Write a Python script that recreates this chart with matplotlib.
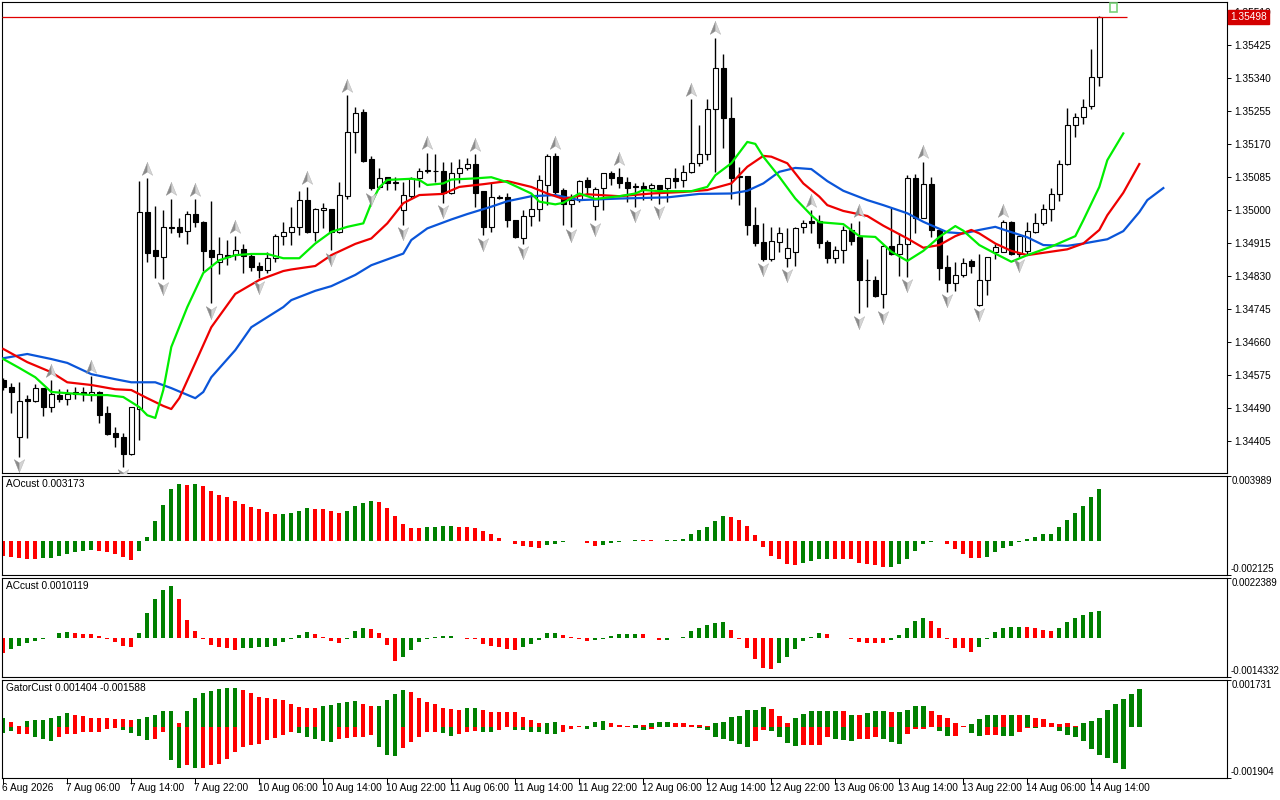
import matplotlib
matplotlib.use("Agg")
import matplotlib.pyplot as plt
from matplotlib.path import Path
from matplotlib.patches import Rectangle

plt.rcParams['font.family'] = ['Liberation Sans', 'DejaVu Sans']

# H1 bars, 6 Aug 22:00 .. 14 Aug 15:00
opens = [1.34562, 1.34543, 1.34414, 1.34513, 1.34508, 1.34540, 1.34493, 1.34522, 1.34513, 1.34526,
         1.34532, 1.34525, 1.34531, 1.34476, 1.34424, 1.34414, 1.34371, 1.34487, 1.34994, 1.34897,
         1.34880, 1.34956, 1.34956, 1.34947, 1.34989, 1.34969, 1.34897, 1.34867, 1.34884, 1.34884,
         1.34899, 1.34881, 1.34856, 1.34845, 1.34876, 1.34933, 1.34943, 1.34956, 1.35026, 1.34944,
         1.35000, 1.35002, 1.34944, 1.35037, 1.35201, 1.35252, 1.35131, 1.35059, 1.35085, 1.35071,
         1.35000, 1.35037, 1.35082, 1.35102, 1.35102, 1.35101, 1.35045, 1.35095, 1.35110, 1.35118,
         1.35049, 1.34957, 1.35033, 1.35033, 1.34974, 1.34927, 1.34986, 1.35002, 1.35065, 1.35141,
         1.35052, 1.35015, 1.35026, 1.35078, 1.35012, 1.35056, 1.35096, 1.35085, 1.35072, 1.35062,
         1.35062, 1.35056, 1.35065, 1.35056, 1.35082, 1.35078, 1.35099, 1.35121, 1.35144, 1.35260,
         1.35367, 1.35238, 1.35088, 1.35088, 1.34963, 1.34918, 1.34873, 1.34917, 1.34876, 1.34893,
         1.34956, 1.34972, 1.34972, 1.34918, 1.34876, 1.34897, 1.34949, 1.34931, 1.34821, 1.34821,
         1.34783, 1.34907, 1.34888, 1.34914, 1.35082, 1.34981, 1.35067, 1.34950, 1.34854, 1.34813,
         1.34832, 1.34869, 1.34755, 1.34820, 1.34893, 1.34893, 1.34970, 1.34888, 1.34895, 1.34943,
         1.34966, 1.35002, 1.35041, 1.35118, 1.35219, 1.35241, 1.35269, 1.35344]
highs = [1.34567, 1.34553, 1.34556, 1.34523, 1.34551, 1.34541, 1.34562, 1.34538, 1.34538, 1.34544,
         1.34544, 1.34572, 1.34533, 1.34495, 1.34440, 1.34424, 1.34493, 1.35075, 1.35082, 1.35010,
         1.35000, 1.35030, 1.34979, 1.34998, 1.35029, 1.34973, 1.35023, 1.34930, 1.34923, 1.34933,
         1.34913, 1.34888, 1.34867, 1.34893, 1.34938, 1.34970, 1.35009, 1.35049, 1.35060, 1.35006,
         1.35019, 1.35003, 1.35072, 1.35297, 1.35265, 1.35260, 1.35140, 1.35110, 1.35086, 1.35085,
         1.35073, 1.35085, 1.35108, 1.35148, 1.35145, 1.35125, 1.35125, 1.35131, 1.35134, 1.35144,
         1.35050, 1.35069, 1.35039, 1.35045, 1.34975, 1.35000, 1.35043, 1.35090, 1.35145, 1.35148,
         1.35058, 1.35043, 1.35078, 1.35086, 1.35060, 1.35097, 1.35101, 1.35108, 1.35086, 1.35069,
         1.35073, 1.35069, 1.35066, 1.35084, 1.35108, 1.35116, 1.35287, 1.35220, 1.35286, 1.35445,
         1.35402, 1.35291, 1.35112, 1.35089, 1.35009, 1.34967, 1.34957, 1.34956, 1.34953, 1.34957,
         1.34974, 1.35000, 1.34987, 1.34923, 1.34907, 1.34959, 1.34967, 1.34973, 1.34873, 1.34830,
         1.34910, 1.35005, 1.34940, 1.35090, 1.35093, 1.35125, 1.35086, 1.34952, 1.34884, 1.34867,
         1.34877, 1.34873, 1.34888, 1.34880, 1.34913, 1.34974, 1.34972, 1.34936, 1.34970, 1.34992,
         1.35017, 1.35056, 1.35129, 1.35263, 1.35251, 1.35288, 1.35417, 1.35501]
lows = [1.34536, 1.34476, 1.34364, 1.34412, 1.34505, 1.34470, 1.34480, 1.34504, 1.34497, 1.34514,
        1.34507, 1.34508, 1.34451, 1.34420, 1.34390, 1.34338, 1.34368, 1.34407, 1.34867, 1.34824,
        1.34822, 1.34940, 1.34931, 1.34912, 1.34957, 1.34844, 1.34760, 1.34835, 1.34858, 1.34871,
        1.34837, 1.34844, 1.34824, 1.34837, 1.34867, 1.34910, 1.34910, 1.34936, 1.34940, 1.34921,
        1.34955, 1.34897, 1.34942, 1.35030, 1.35148, 1.35125, 1.35052, 1.35055, 1.35052, 1.35052,
        1.34963, 1.35030, 1.35059, 1.35095, 1.35073, 1.35019, 1.35043, 1.35069, 1.35103, 1.35009,
        1.34936, 1.34944, 1.35028, 1.34957, 1.34927, 1.34914, 1.34959, 1.34973, 1.35013, 1.35036,
        1.34961, 1.34957, 1.35022, 1.35039, 1.34974, 1.35000, 1.35066, 1.35056, 1.35022, 1.35009,
        1.35026, 1.35026, 1.35017, 1.35020, 1.35056, 1.35060, 1.35095, 1.35114, 1.35129, 1.35099,
        1.35161, 1.35030, 1.35013, 1.34936, 1.34907, 1.34869, 1.34870, 1.34893, 1.34854, 1.34856,
        1.34940, 1.34940, 1.34903, 1.34863, 1.34863, 1.34863, 1.34910, 1.34734, 1.34749, 1.34775,
        1.34747, 1.34885, 1.34830, 1.34828, 1.34942, 1.34979, 1.34931, 1.34821, 1.34789, 1.34792,
        1.34828, 1.34838, 1.34753, 1.34781, 1.34873, 1.34891, 1.34884, 1.34880, 1.34888, 1.34940,
        1.34963, 1.34973, 1.35024, 1.35116, 1.35188, 1.35222, 1.35260, 1.35320]
closes = [1.34544, 1.34531, 1.34507, 1.34507, 1.34540, 1.34493, 1.34525, 1.34513, 1.34525, 1.34532,
          1.34526, 1.34532, 1.34471, 1.34422, 1.34414, 1.34371, 1.34491, 1.34994, 1.34890, 1.34882,
          1.34956, 1.34954, 1.34944, 1.34989, 1.34969, 1.34895, 1.34878, 1.34886, 1.34878, 1.34897,
          1.34881, 1.34854, 1.34845, 1.34876, 1.34933, 1.34943, 1.34956, 1.35026, 1.34944, 1.35002,
          1.35006, 1.34944, 1.35038, 1.35201, 1.35250, 1.35127, 1.35058, 1.35082, 1.35071, 1.35072,
          1.35038, 1.35082, 1.35101, 1.35103, 1.35101, 1.35045, 1.35095, 1.35108, 1.35118, 1.35045,
          1.34957, 1.35033, 1.35032, 1.34974, 1.34930, 1.34986, 1.35002, 1.35078, 1.35141, 1.35047,
          1.35017, 1.35026, 1.35075, 1.35059, 1.35054, 1.35095, 1.35083, 1.35071, 1.35056, 1.35059,
          1.35054, 1.35065, 1.35054, 1.35082, 1.35076, 1.35099, 1.35121, 1.35144, 1.35260, 1.35367,
          1.35238, 1.35082, 1.35085, 1.34963, 1.34916, 1.34873, 1.34921, 1.34940, 1.34903, 1.34953,
          1.34966, 1.34967, 1.34916, 1.34876, 1.34897, 1.34949, 1.34921, 1.34820, 1.34820, 1.34779,
          1.34907, 1.34888, 1.34914, 1.35082, 1.34979, 1.35067, 1.34950, 1.34852, 1.34813, 1.34832,
          1.34864, 1.34857, 1.34820, 1.34878, 1.34906, 1.34970, 1.34888, 1.34933, 1.34946, 1.34966,
          1.35002, 1.35041, 1.35118, 1.35219, 1.35241, 1.35267, 1.35343, 1.35498]

# alligator lines (bar index incl. forward shift, value)
jaw_idx = [0, 3, 6, 8, 11, 14, 16, 19, 21, 24, 25, 26, 29, 31, 35, 36, 39, 41, 44, 46,
           50, 51, 53, 56, 58, 61, 63, 66, 69, 72, 77, 83, 87, 91, 93, 95, 97, 99, 101, 103,
           105, 108, 110, 113, 115, 118, 120, 122, 124, 125, 128, 130, 133, 135, 138, 140, 142, 143, 145]
jaw_val = [1.34618, 1.34629, 1.34616, 1.34606, 1.34577, 1.34564, 1.34556, 1.34556, 1.34541, 1.34515,
           1.34531, 1.34569, 1.34639, 1.34698, 1.34750, 1.34768, 1.34792, 1.34804, 1.34833, 1.34858,
           1.34888, 1.34923, 1.34953, 1.34976, 1.34990, 1.35009, 1.35023, 1.35036, 1.35039, 1.35026,
           1.35030, 1.35033, 1.35042, 1.35043, 1.35050, 1.35069, 1.35099, 1.35109, 1.35106, 1.35075,
           1.35050, 1.35026, 1.35013, 1.34992, 1.34970, 1.34943, 1.34940, 1.34949, 1.34957, 1.34950,
           1.34930, 1.34910, 1.34908, 1.34914, 1.34925, 1.34946, 1.34995, 1.35026, 1.35057]
teeth_idx = [0, 3, 6, 8, 11, 14, 16, 18, 20, 21, 22, 24, 26, 29, 32, 35, 36, 39, 41, 44,
             46, 48, 50, 52, 55, 57, 60, 63, 66, 68, 70, 73, 77, 81, 85, 88, 91, 93, 95, 96,
             98, 100, 102, 103, 105, 108, 110, 113, 115, 117, 119, 121, 122, 124, 126, 128, 130, 133, 135, 137,
             138, 140, 142]
teeth_val = [1.34642, 1.34608, 1.34582, 1.34556, 1.34549, 1.34538, 1.34536, 1.34515, 1.34495, 1.34487,
             1.34515, 1.34606, 1.34698, 1.34784, 1.34820, 1.34843, 1.34847, 1.34856, 1.34884, 1.34913,
             1.34927, 1.34966, 1.35018, 1.35039, 1.35042, 1.35060, 1.35067, 1.35075, 1.35060, 1.35043,
             1.35029, 1.35041, 1.35036, 1.35043, 1.35047, 1.35052, 1.35069, 1.35112, 1.35140, 1.35138,
             1.35121, 1.35069, 1.35035, 1.35013, 1.34998, 1.34985, 1.34960, 1.34927, 1.34903, 1.34910,
             1.34933, 1.34949, 1.34940, 1.34914, 1.34895, 1.34884, 1.34890, 1.34899, 1.34914, 1.34949,
             1.34987, 1.35045, 1.35119]
lips_idx = [0, 2, 4, 6, 8, 11, 13, 15, 17, 18, 19, 20, 21, 23, 25, 27, 29, 31, 33, 35,
            37, 39, 41, 43, 45, 46, 47, 48, 51, 52, 53, 55, 56, 59, 61, 63, 66, 67, 69, 70,
            72, 74, 77, 79, 80, 82, 86, 88, 89, 91, 93, 94, 95, 97, 99, 101, 102, 105, 107, 109,
            111, 113, 115, 117, 119, 120, 122, 124, 126, 128, 131, 134, 135, 137, 138, 140]
lips_val = [1.34616, 1.34593, 1.34569, 1.34531, 1.34528, 1.34523, 1.34523, 1.34518, 1.34492, 1.34471,
            1.34464, 1.34536, 1.34647, 1.34750, 1.34838, 1.34871, 1.34884, 1.34887, 1.34887, 1.34876,
            1.34876, 1.34914, 1.34944, 1.34957, 1.34966, 1.35018, 1.35059, 1.35078, 1.35081, 1.35078,
            1.35065, 1.35069, 1.35079, 1.35082, 1.35085, 1.35072, 1.35043, 1.35022, 1.35015, 1.35019,
            1.35043, 1.35029, 1.35036, 1.35043, 1.35052, 1.35049, 1.35049, 1.35060, 1.35090, 1.35121,
            1.35176, 1.35171, 1.35138, 1.35086, 1.35030, 1.34987, 1.34969, 1.34964, 1.34933, 1.34931,
            1.34893, 1.34869, 1.34895, 1.34931, 1.34959, 1.34947, 1.34910, 1.34888, 1.34867, 1.34884,
            1.34906, 1.34933, 1.34974, 1.35060, 1.35129, 1.35198]

up_fractals = [6, 11, 18, 21, 24, 29, 38, 43, 53, 59, 69, 77, 86, 89, 101, 107, 115, 125]
down_fractals = [2, 15, 20, 26, 32, 41, 46, 50, 55, 60, 65, 71, 74, 79, 82, 95, 98,
                 107, 110, 113, 118, 122, 127]

ao_vals = [-0.000945, -0.001008, -0.00105, -0.00111, -0.00111, -0.001105, -0.00105, -0.000924, -0.000819, -0.000735,
           -0.00063, -0.000588, -0.00063, -0.000693, -0.000819, -0.000987, -0.001198, -0.000672, 0.000252, 0.001198,
           0.002206, 0.003215, 0.003509, 0.003404, 0.003467, 0.003341, 0.003088, 0.002815, 0.002689, 0.002458,
           0.002269, 0.00208, 0.001954, 0.001765, 0.001639, 0.001645, 0.001702, 0.001828, 0.002017, 0.001975,
           0.00197, 0.001849, 0.001702, 0.001828, 0.002143, 0.002332, 0.002458, 0.002395, 0.002017, 0.001513,
           0.001008, 0.000798, 0.000756, 0.00084, 0.000845, 0.000882, 0.000886, 0.00087, 0.000819, 0.000798,
           0.000567, 0.000378, 0.000189, -0.00004, -0.00021, -0.000357, -0.00042, -0.00044, -0.000294, -0.000189,
           -0.000105, -0.00004, -0.00003, -0.000126, -0.000357, -0.000294, -0.000147, -0.000063, -0.00005, 0.00006,
           0.00004, 0.00001, -0.00004, 0.00002, 0.00004, 0.000084, 0.000378, 0.00063, 0.000861, 0.001198,
           0.001492, 0.001429, 0.001261, 0.000882, 0.000315, -0.00042, -0.000924, -0.001156, -0.001471, -0.001513,
           -0.001366, -0.00126, -0.001134, -0.001113, -0.00112, -0.00113, -0.001156, -0.001366, -0.00145, -0.001513,
           -0.001618, -0.00161, -0.00145, -0.001113, -0.00063, -0.00021, -0.000063, -0.000021, -0.00021, -0.000504,
           -0.000798, -0.00105, -0.00106, -0.001008, -0.000735, -0.000462, -0.000315, -0.000063, 0.000105, 0.000231,
           0.000378, 0.00042, 0.000819, 0.001261, 0.001681, 0.002143, 0.00271, 0.003173]
ao_colors = ("r" * 5 + "g" * 7 + "r" * 5 + "g" * 6 + "r" + "g" + "r" * 10 + "g" * 4 + "r" * 4 + "g" * 4
             + "r" * 6 + "g" * 4 + "r" * 11 + "g" * 3 + "r" + "g" + "r" * 2 + "g" * 5 + "r" * 3 + "g" * 8
             + "r" * 9 + "g" * 4 + "r" * 7 + "g" * 7 + "r" * 5 + "g" * 15)

ac_vals = [-0.000556, -0.000396, -0.000297, -0.000173, -0.000099, -0.000025, 0.00001, 0.000185, 0.000235, 0.000185,
           0.00018, 0.000148, 0.000074, -0.00001, -0.000148, -0.000284, -0.000334, 0.000185, 0.000939, 0.001446,
           0.00178, 0.001928, 0.001446, 0.000667, 0.00026, -0.000025, -0.00026, -0.000334, -0.00034, -0.000433,
           -0.000371, -0.00037, -0.000334, -0.00033, -0.000297, -0.000136, -0.00002, 0.000111, 0.000235, 0.000148,
           0.000037, -0.000099, -0.000173, -0.00002, 0.000272, 0.000383, 0.000334, 0.000185, -0.000247, -0.00084,
           -0.000692, -0.000433, -0.000136, -0.00002, 0.000037, 0.000074, 0.00008, 0.00001, -0.000025, -0.00003,
           -0.00021, -0.000297, -0.000334, -0.000408, -0.000433, -0.000334, -0.00021, -0.000062, 0.000185, 0.00019,
           0.000111, 0.00005, -0.00001, -0.0001, -0.000062, -0.000012, 0.000074, 0.000148, 0.00015, 0.000152,
           0.000145, 0.000025, -0.000062, -0.00006, 0.000025, 0.000062, 0.000272, 0.000383, 0.000494, 0.000581,
           0.000606, 0.000309, -0.00001, -0.000371, -0.000779, -0.001112, -0.00112, -0.000902, -0.00068, -0.000408,
           -0.000099, 0.00005, 0.000185, 0.00018, 0.000025, -0.000005, -0.000025, -0.000124, -0.00016, -0.000165,
           -0.00017, -0.000062, 0.000111, 0.000383, 0.000643, 0.000766, 0.000643, 0.000383, -0.00001, -0.000346,
           -0.00035, -0.000507, -0.000321, -0.000025, 0.000235, 0.000371, 0.00042, 0.000425, 0.00042, 0.000371,
           0.000309, 0.000272, 0.000383, 0.000606, 0.000766, 0.000865, 0.000976, 0.0010119]
ac_colors = ("r" + "g" * 8 + "r" * 8 + "g" * 5 + "r" * 8 + "g" * 9 + "r" * 4 + "g" * 3 + "r" * 4 + "g" * 7
             + "r" * 8 + "g" * 5 + "r" * 4 + "g" * 6 + "r" * 3 + "g" * 8 + "r" * 6 + "g" * 6 + "r" * 8 + "g" * 5
             + "r" * 6 + "g" * 6 + "r" * 4 + "g" * 6)

gator_up = [0.000318, 0.000184, 0.000037, 0.000196, 0.000245, 0.000257, 0.000306, 0.000404, 0.00049, 0.000441,
            0.000404, 0.00033, 0.000325, 0.00032, 0.000282, 0.000269, 0.000245, 0.000294, 0.000343, 0.000441,
            0.000563, 0.00057, 0.000147, 0.000563, 0.001077, 0.001261, 0.001322, 0.001408, 0.001432, 0.001435,
            0.001359, 0.001261, 0.001114, 0.001053, 0.001016, 0.000979, 0.000857, 0.000734, 0.000698, 0.000695,
            0.000771, 0.000808, 0.000894, 0.00093, 0.00094, 0.000857, 0.000771, 0.000775, 0.000991, 0.0012,
            0.001359, 0.001297, 0.001077, 0.00093, 0.000832, 0.000698, 0.000649, 0.000636, 0.000698, 0.0007,
            0.000612, 0.000551, 0.000545, 0.00054, 0.000535, 0.000367, 0.000257, 0.000135, 0.00014, 0.000159,
            0.000061, 0.000037, 0.000035, 0.00001, 0.000159, 0.00022, 0.000135, 0.000061, 0.000037, 0.00008,
            0.000073, 0.000122, 0.000184, 0.00019, 0.000122, 0.00012, 0.000061, 0.00006, 0.00004, 0.000122,
            0.000159, 0.000343, 0.000404, 0.000612, 0.000636, 0.000734, 0.000673, 0.000404, 0.000147, 0.00033,
            0.000477, 0.000575, 0.000588, 0.00059, 0.000592, 0.000563, 0.000441, 0.000428, 0.00049, 0.000588,
            0.00059, 0.000526, 0.00053, 0.000624, 0.000771, 0.000775, 0.000588, 0.000441, 0.000306, 0.000135,
            0.000037, 0.000086, 0.000282, 0.000428, 0.000441, 0.000438, 0.000445, 0.000436, 0.00044, 0.00033,
            0.000282, 0.000147, 0.000098, 0.000122, 0.000037, 0.000122, 0.000196, 0.000318, 0.0006, 0.000832,
            0.001016, 0.0012, 0.001404]
gator_up_colors = ("g" + "r" * 2 + "g" * 6 + "r" * 8 + "g" * 5 + "r" + "g" * 7 + "r" * 10 + "g" * 5 + "r" * 2
                   + "g" * 4 + "r" * 7 + "g" * 2 + "r" * 8 + "g" * 2 + "r" * 3 + "g" * 3 + "r" * 3 + "g" + "r"
                   + "g" * 3 + "r" * 5 + "g" * 7 + "r" * 3 + "g" * 6 + "r" + "g" + "r" + "g" * 3 + "r"
                   + "g" * 4 + "r" * 5 + "g" * 4 + "r" + "g" + "r" + "g" + "r" * 6 + "g" * 8)
gator_dn = [-0.000245, -0.000147, -0.000282, -0.000285, -0.000367, -0.000453, -0.000539, -0.000392, -0.000282, -0.00028,
            -0.000208, -0.000205, -0.000184, -0.000086, -0.000049, -0.000122, -0.000233, -0.000355, -0.00049, -0.000453,
            -0.000208, -0.001224, -0.00153, -0.001408, -0.001535, -0.00153, -0.001432, -0.001371, -0.001187, -0.000942,
            -0.000771, -0.000698, -0.000661, -0.00049, -0.000416, -0.000294, -0.000208, -0.000233, -0.000392, -0.000453,
            -0.000539, -0.000575, -0.000453, -0.000416, -0.000392, -0.00039, -0.000306, -0.000759, -0.001065, -0.001102,
            -0.000796, -0.000575, -0.000392, -0.000208, -0.000184, -0.000245, -0.00033, -0.000269, -0.000184, -0.000147,
            -0.000184, -0.00019, -0.000122, -0.000025, -0.00011, -0.000135, -0.000184, -0.000208, -0.000269, -0.00027,
            -0.000208, -0.000086, -0.000025, -0.000086, -0.00001, -0.00011, -0.000025, -0.00002, -0.000025, -0.000061,
            -0.000122, -0.000086, -0.000025, -0.00002, -0.000018, -0.000016, -0.000025, -0.000061, -0.000122, -0.000367,
            -0.000453, -0.000514, -0.000661, -0.000759, -0.000539, -0.00011, -0.000147, -0.000392, -0.000612, -0.000722,
            -0.000698, -0.000695, -0.00069, -0.000367, -0.000453, -0.00049, -0.000539, -0.000453, -0.00045, -0.000367,
            -0.000453, -0.000575, -0.000636, -0.000282, -0.000086, -0.00008, -0.000025, -0.000171, -0.000355, -0.00033,
            -0.000025, -0.000233, -0.000355, -0.000306, -0.0003, -0.000343, -0.00033, -0.000208, -0.000049, -0.000061,
            -0.000025, -0.00002, -0.000147, -0.000294, -0.000367, -0.000514, -0.000845, -0.001065, -0.001163, -0.001346,
            -0.001588]
gator_dn_colors = ("g" * 2 + "r" * 2 + "g" * 3 + "r" * 8 + "g" * 4 + "r" * 2 + "g" * 2 + "r" + "g" + "r" * 12
                   + "g" * 5 + "r" * 5 + "g" * 3 + "r" * 5 + "g" * 2 + "r" * 3 + "g" * 2 + "r" * 2 + "g" * 6
                   + "r" * 3 + "g" + "r" + "g" + "r" * 2 + "g" * 3 + "r" * 5 + "g" * 8 + "r" * 2 + "g" * 4
                   + "r" * 4 + "g" * 3 + "r" * 3 + "g" * 3 + "r" * 4 + "g" * 2 + "r" * 2 + "g" * 2 + "r" * 2
                   + "g" * 2 + "r" * 2 + "g" + "r" * 2 + "g" * 9)

price_ticks = [1.34405, 1.34490, 1.34575, 1.34660, 1.34745, 1.34830, 1.34915,
               1.35000, 1.35085, 1.35170, 1.35255, 1.35340, 1.35425, 1.35510]
time_labels = ["6 Aug 2026", "7 Aug 06:00", "7 Aug 14:00", "7 Aug 22:00", "10 Aug 06:00",
               "10 Aug 14:00", "10 Aug 22:00", "11 Aug 06:00", "11 Aug 14:00", "11 Aug 22:00",
               "12 Aug 06:00", "12 Aug 14:00", "12 Aug 22:00", "13 Aug 06:00", "13 Aug 14:00",
               "13 Aug 22:00", "14 Aug 06:00", "14 Aug 14:00"]
bid = 1.35498

HIST = {"g": "#008000", "r": "#ff0000"}
FS = 7.3
W, H = 1280, 800
fig = plt.figure(figsize=(12.8, 8), dpi=100)
fig.patch.set_facecolor("white")


def px_axes(l, t, r, b):
    return fig.add_axes([l / W, 1 - b / H, (r - l) / W, (b - t) / H])


ax = px_axes(2, 2, 1227, 473)
ao = px_axes(2, 476, 1227, 575)
ac = px_axes(2, 578, 1227, 677)
ga = px_axes(2, 680, 1227, 778)
xlim = (-0.16, 152.96)
for a in (ax, ao, ac, ga):
    a.set_xlim(*xlim)
    a.set_xticks([])
    for s in a.spines.values():
        s.set_linewidth(0.8)
        s.set_color("black")
    a.yaxis.tick_right()
    a.tick_params(axis="y", direction="out", length=3, width=0.7, pad=2, labelsize=FS)

# ---- main chart ----
n = len(opens)
xs = list(range(n))
ax.vlines(xs, lows, highs, color="black", lw=1, zorder=2)
bottoms = [min(o, c) for o, c in zip(opens, closes)]
heights = [abs(c - o) for o, c in zip(opens, closes)]
fills = ["white" if c >= o else "black" for o, c in zip(opens, closes)]
ax.bar(xs, heights, bottom=bottoms, width=0.6, color=fills, edgecolor="black",
       linewidth=0.8, zorder=3)

ax.plot(jaw_idx, jaw_val, color="#0a55d9", lw=1.6, zorder=4)
ax.plot(teeth_idx, teeth_val, color="#ee0000", lw=1.6, zorder=4)
ax.plot(lips_idx, lips_val, color="#00ee00", lw=1.6, zorder=4)

# fractal arrows (two-tone arrowheads)
left_up = Path([(0, 1), (0, -0.35), (-0.75, -0.85), (0, 1)])
right_up = Path([(0, 1), (0.75, -0.85), (0, -0.35), (0, 1)])
left_dn = Path([(0, -1), (0, 0.35), (-0.75, 0.85), (0, -1)])
right_dn = Path([(0, -1), (0.75, 0.85), (0, 0.35), (0, -1)])
ux = up_fractals
uy = [highs[i] + 0.00024 for i in up_fractals]
dx = down_fractals
dy = [lows[i] - 0.00022 for i in down_fractals]
for xx, yy, lp, rp in ((ux, uy, left_up, right_up), (dx, dy, left_dn, right_dn)):
    ax.plot(xx, yy, ls="none", marker=lp, ms=10, mfc="#8c8c8c", mec="#8c8c8c", mew=0.3, zorder=5)
    ax.plot(xx, yy, ls="none", marker=rp, ms=10, mfc="#d4d4d4", mec="#b0b0b0", mew=0.3, zorder=5)

ax.hlines(bid, xlim[0], 140.5, color="#e00000", lw=0.9, zorder=3)
ax.add_patch(Rectangle((138.3, 1.35511), 0.95, 0.00024, fill=False, ec="#7ad27a", lw=1.2, zorder=5))

ax.set_ylim(1.34322, 1.35537)
ax.set_yticks(price_ticks)
ax.set_yticklabels([f"{p:.5f}" for p in price_ticks])
ax.annotate(f"{bid:.5f}", xy=(1, bid), xycoords=("axes fraction", "data"),
            xytext=(3, 0), textcoords="offset pixels", ha="left", va="center",
            color="white", fontsize=FS, zorder=10,
            bbox=dict(boxstyle="square,pad=0.2", fc="#d40000", ec="#d40000"))


# ---- sub windows ----
def sub_window(a, vals, colors, lo, hi, title, width=0.5):
    a.bar(range(len(vals)), vals, width=width, color=[HIST[c] for c in colors[:len(vals)]],
          linewidth=0)
    a.set_ylim(lo, hi)
    a.set_yticks([lo, hi])
    a.set_yticklabels([])
    a.annotate(title, xy=(0, 1), xycoords="axes fraction", xytext=(4, -3),
               textcoords="offset pixels", ha="left", va="top", fontsize=FS)
    a.annotate(f"{hi:.7f}".rstrip("0"), xy=(1, 1), xycoords="axes fraction",
               xytext=(5, -5), textcoords="offset pixels", ha="left", va="center", fontsize=7)
    a.annotate(f"{lo:.7f}".rstrip("0"), xy=(1, 0), xycoords="axes fraction",
               xytext=(4, 6), textcoords="offset pixels", ha="left", va="center", fontsize=7)


sub_window(ao, ao_vals, ao_colors, -0.002125, 0.003989, "AOcust 0.003173")
sub_window(ac, ac_vals, ac_colors, -0.0014332, 0.0022389, "ACcust 0.0010119")
sub_window(ga, gator_up, gator_up_colors, -0.001904, 0.001731, "GatorCust 0.001404 -0.001588", width=0.55)
ga.bar(range(len(gator_dn)), gator_dn, width=0.55,
       color=[HIST[c] for c in gator_dn_colors[:len(gator_dn)]], linewidth=0)

# time axis
tpos = [8 * k for k in range(len(time_labels))]
ga.set_xticks(tpos)
ga.set_xticklabels([])
ga.tick_params(axis="x", direction="out", length=4, width=0.7)
for p, lbl in zip(tpos, time_labels):
    ga.annotate(lbl, xy=(p, 0), xycoords=("data", "axes fraction"), xytext=(-1, -5),
                textcoords="offset pixels", ha="left", va="top", fontsize=FS)

fig.savefig("out.png", dpi=100)
